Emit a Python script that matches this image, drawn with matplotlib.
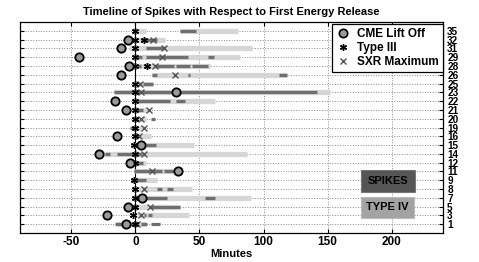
import numpy as np
import matplotlib
matplotlib.use('Agg')
import matplotlib.pyplot as plt
from matplotlib.lines import Line2D
from matplotlib.patches import Rectangle

plt.rcParams['font.family'] = ['Liberation Sans', 'DejaVu Sans']
plt.rcParams['font.weight'] = 'bold'

# event numbers, top row first
rows = [35, 32, 31, 29, 28, 26, 25, 23, 22, 21, 20, 19,
        16, 15, 14, 12, 11, 9, 8, 7, 5, 3, 1]

# CME lift off time (minutes), nan = none
cme = [np.nan, -6, -11.5, -44, -5, -11.5, np.nan, 32, -16, -7.5, np.nan, np.nan,
       -14, 4, -28.5, -4.5, 33.5, np.nan, np.nan, 5, -6, -22.5, -7]

# type III bursts
type3 = [[0], [0, 7], [0], [0], [0, 9], [], [0], [0], [0], [0], [0], [0],
         [0], [-1], [0], [0], [], [-1], [0], [0], [0], [-2], [0]]

# SXR maximum
sxr = [[], [14], [22], [21], [15.5], [31], [3.5], [4], [], [11], [4], [6.5],
       [3], [], [7], [], [13], [], [6.5], [], [11.5], [4], [1.5]]

# type IV intervals
type4 = [[(-1, 8), (35, 80)], [(0, 23)], [(-5, 91)], [(-1, 82)], [(0, 58)],
         [(13, 118)], [(-1, 14)], [(-17, 152)], [(0, 62)], [(-1, 9)], [(0, 8)],
         [(-3, 5)], [(0, 12)], [(-1, 46)], [(-25, 87)], [(0, 8)], [(0, 33)],
         [(-2.5, 17)], [(0, 44)], [(0, 90)], [(-1, 35)], [(0, 42)], [(-15, 8)]]

# spike intervals
spikes = [[(35, 47)], [(0, 1), (4, 17)], [(8.5, 22)], [(-1, 5), (8, 41), (57, 61)],
          [(1, 4), (15.5, 30), (32, 43), (44, 57)], [(13, 17), (41, 42.5), (112, 118)],
          [(6, 14)], [(-17, 142)], [(0, 27), (32, 39)], [(1, 6)], [(0, 2), (12.5, 15)],
          [(-4, 1)], [(0, 3)], [(8, 16)], [(-24, -20), (-14, 5)], [(0, 6)],
          [(-1, 21), (22, 30)], [(-2.5, 8)], [(17, 21), (25, 29)], [(0, 25), (54.5, 62)],
          [(12, 34.5)], [(7, 8), (10, 13)], [(-16, 1), (4, 9), (12, 19)]]

xticks = [-50, 0, 50, 100, 150, 200]

fig = plt.figure(figsize=(4.79, 2.62), dpi=100)
ax = fig.add_axes([0.0418, 0.1107, 0.8830, 0.8053])

n = len(rows)
ypos = np.arange(n, 0, -1)

ax.axvline(0, color='black', lw=0.8, zorder=2)

for y, segs in zip(ypos, type4):
    for a, b in segs:
        ax.hlines(y, a, b, color='#d6d6d6', lw=3.8, zorder=3)
for y, segs in zip(ypos, spikes):
    for a, b in segs:
        ax.hlines(y, a, b, color='#6f6f6f', lw=2.3, zorder=4)
for y, xs in zip(ypos, sxr):
    if xs:
        ax.plot(xs, [y] * len(xs), 'x', color='#555555', ms=4.5, mew=1.0, zorder=5)
for y, xs in zip(ypos, type3):
    if xs:
        ax.plot(xs, [y] * len(xs), marker=(6, 2, 0), ls='none', color='black',
                ms=5, mew=1.0, zorder=6)
ax.plot(cme, ypos, 'o', ms=6, mfc='#9a9a9a', mec='black', mew=1.3, zorder=7)

ax.set_xlim(-90, 240)
ax.set_ylim(0, 24)
ax.set_xticks(xticks)
ax.set_xticklabels([str(t) for t in xticks], fontsize=8.5, fontweight='bold')
ax.set_yticks(ypos)
ax.set_yticklabels([str(r) for r in rows], fontsize=7.2, fontweight='bold')
ax.yaxis.tick_right()
ax.tick_params(axis='both', direction='in', length=3, width=0.8,
               top=True, bottom=True, left=True, right=True, pad=2)
ax.tick_params(axis='y', pad=3)
ax.grid(True, ls=':', color='#8a8a8a', lw=0.7)
ax.set_axisbelow(True)
for s in ax.spines.values():
    s.set_linewidth(0.9)

ax.set_title('Timeline of Spikes with Respect to First Energy Release',
             fontsize=8, fontweight='bold', pad=5)
ax.set_xlabel('Minutes', fontsize=8, fontweight='bold', labelpad=1)

handles = [Line2D([], [], marker='o', ls='none', ms=6, mfc='#9a9a9a', mec='black', mew=1.2),
           Line2D([], [], marker=(6, 2, 0), ls='none', ms=5, color='black', mew=1.0),
           Line2D([], [], marker='x', ls='none', ms=4, color='#555555', mew=1.0)]
leg = ax.legend(handles, ['CME Lift Off', 'Type III', 'SXR Maximum'],
                loc='upper right', bbox_to_anchor=(1.0, 0.99), borderaxespad=0,
                fancybox=False, framealpha=1, edgecolor='black', handletextpad=0.6,
                handlelength=1.2, labelspacing=0.15, borderpad=0.35,
                prop={'size': 8.5, 'weight': 'bold'})
leg.get_frame().set_linewidth(0.9)
leg.set_zorder(10)

ax.add_patch(Rectangle((0.805, 0.196), 0.130, 0.103, transform=ax.transAxes,
                       facecolor='#555555', edgecolor='#777777', lw=0.8, zorder=9))
ax.text(0.870, 0.247, 'SPIKES', transform=ax.transAxes, ha='center', va='center',
        fontsize=8, fontweight='bold', zorder=10)
ax.add_patch(Rectangle((0.805, 0.071), 0.127, 0.101, transform=ax.transAxes,
                       facecolor='#a3a3a3', edgecolor='#bbbbbb', lw=0.8, zorder=9))
ax.text(0.868, 0.121, 'TYPE IV', transform=ax.transAxes, ha='center', va='center',
        fontsize=8, fontweight='bold', zorder=10)

fig.savefig('out.png', dpi=100)
